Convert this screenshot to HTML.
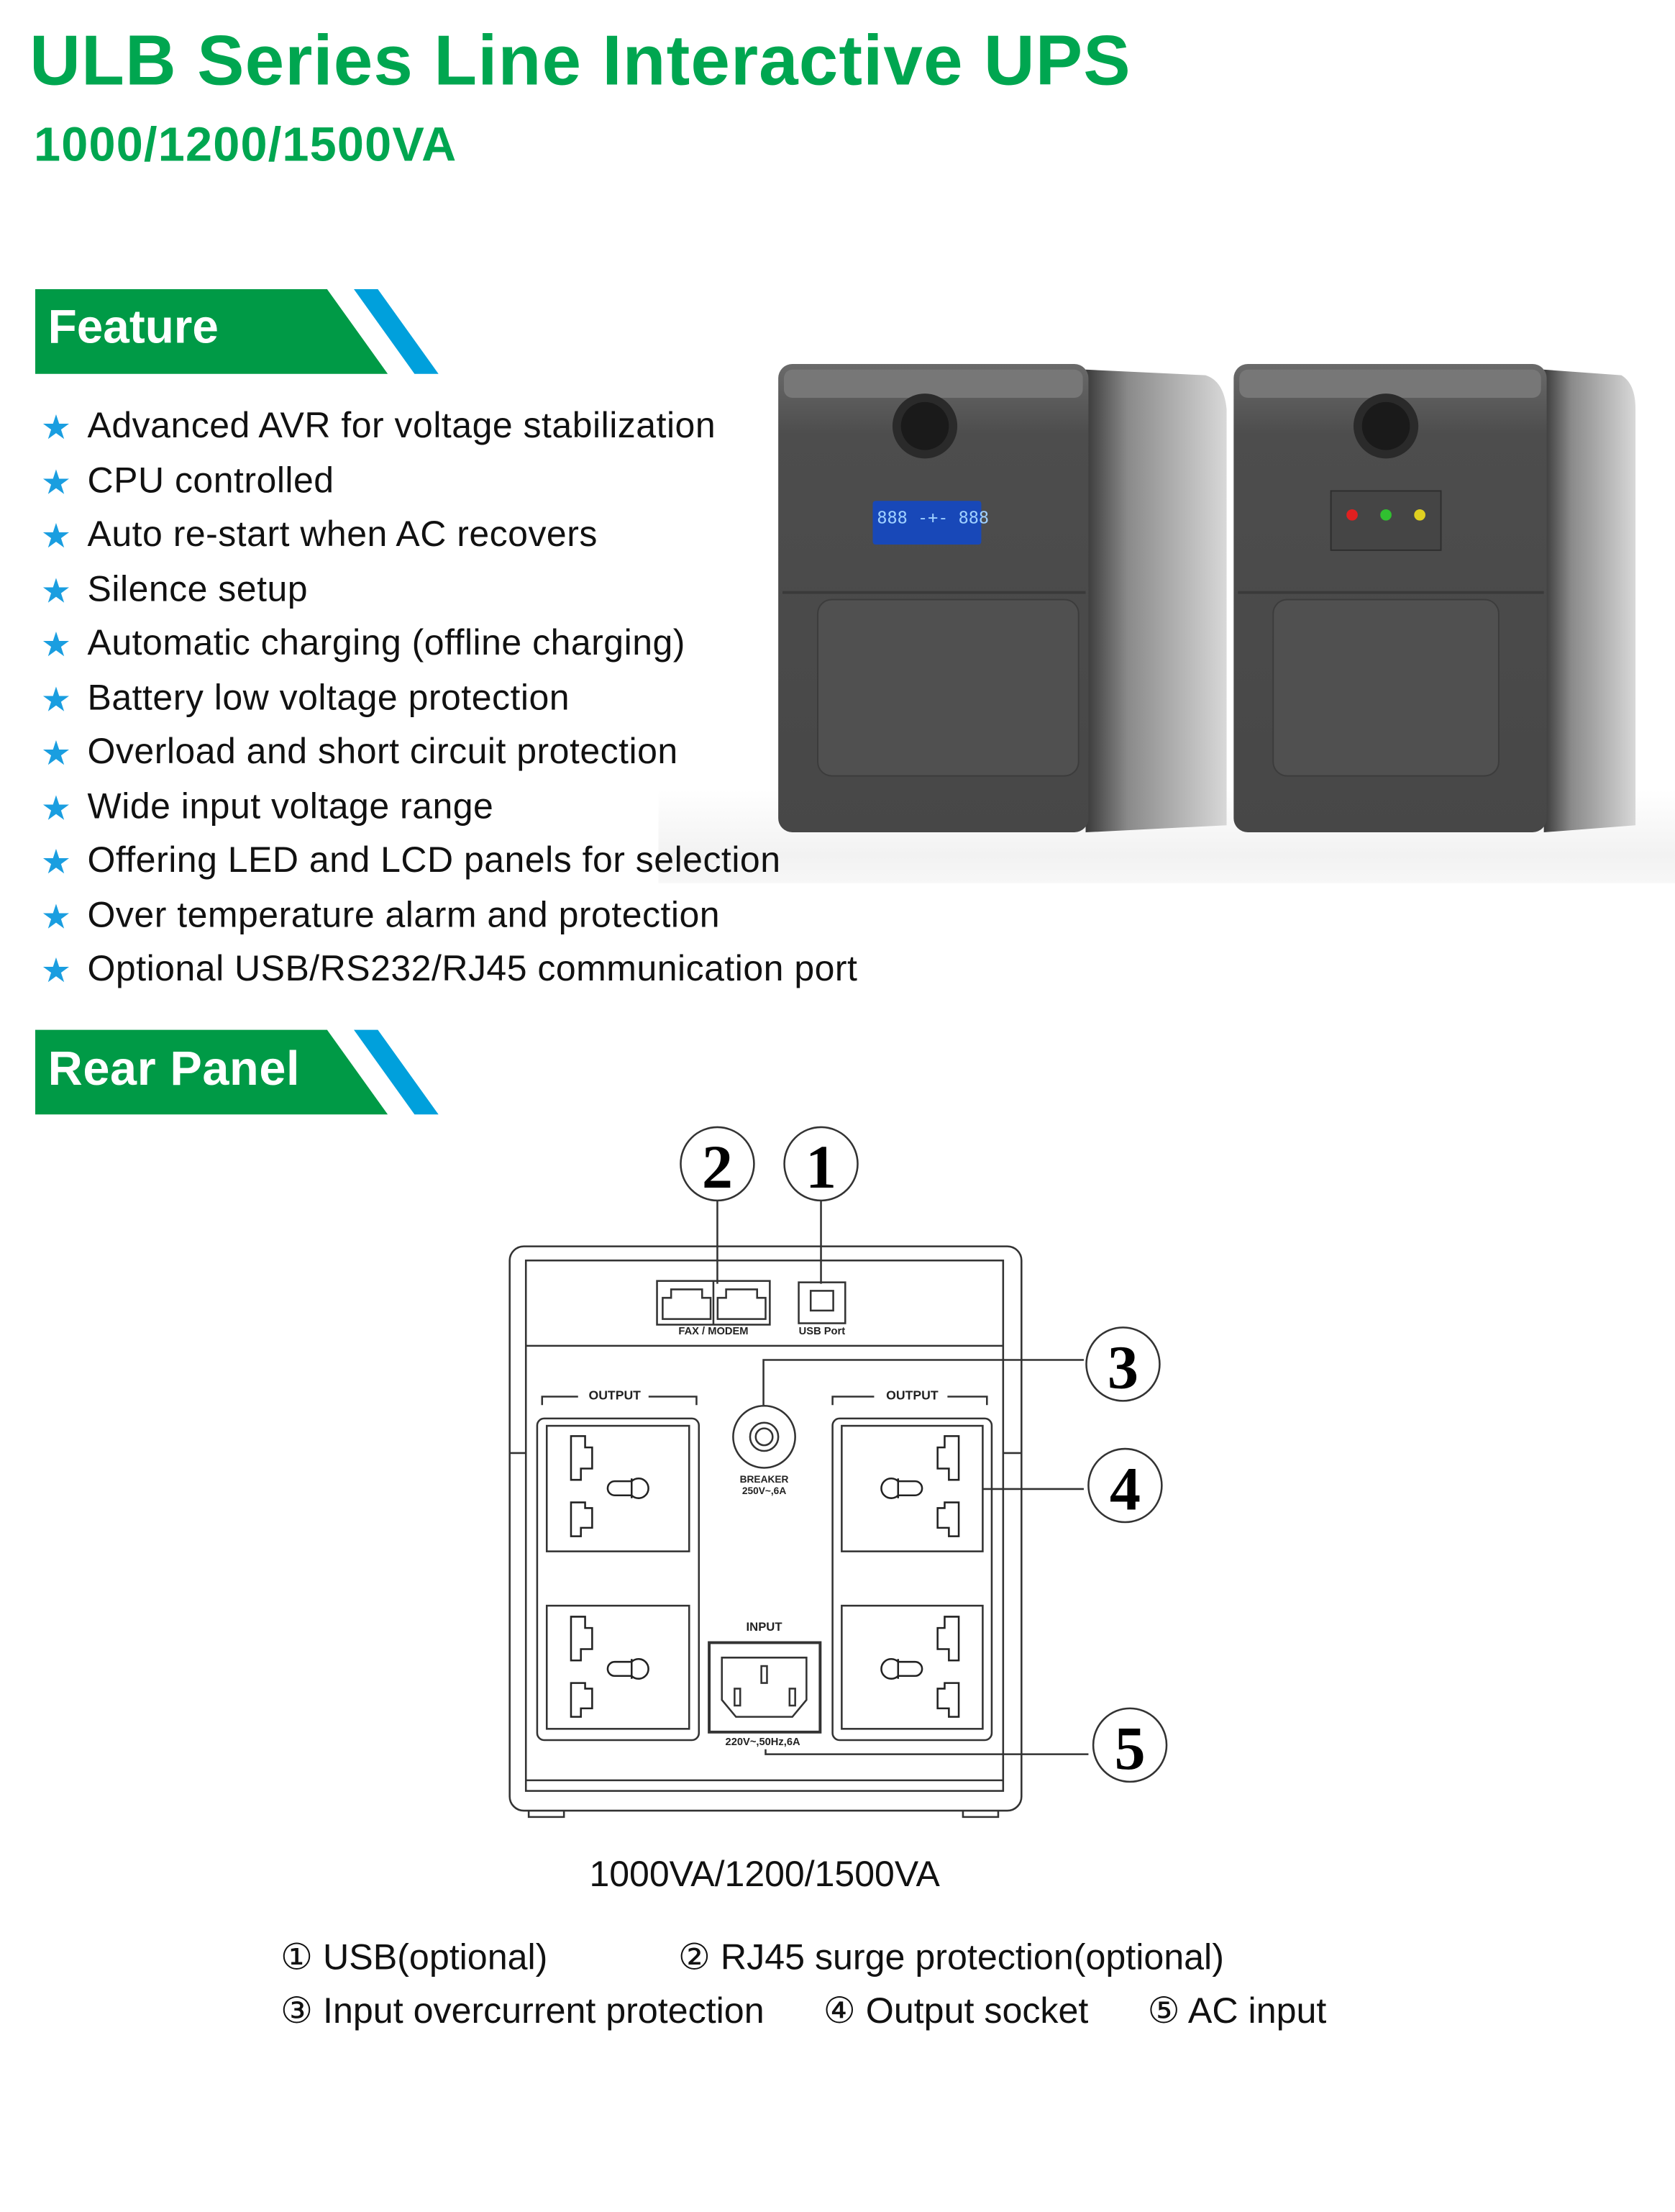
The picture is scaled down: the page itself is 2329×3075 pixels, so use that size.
<!DOCTYPE html>
<html><head><meta charset="utf-8"><style>
html,body{margin:0;padding:0;background:#fff;}
body{width:2329px;height:3075px;overflow:hidden;position:relative;}
#s{position:absolute;left:0;top:0;width:1188px;height:1568px;transform:scale(1.9604,1.9611);transform-origin:0 0;font-family:"Liberation Sans","DejaVu Sans",sans-serif;}
.a{position:absolute;white-space:nowrap;}
.g{color:#00a650;font-weight:bold;}
.f{font-size:25.5px;letter-spacing:0.25px;color:#111;left:62px;}
.st{position:absolute;left:29px;color:#1a9ee0;font-size:24px;font-family:"DejaVu Sans",sans-serif;}
.lg{font-size:25.6px;color:#111;font-family:"Liberation Sans","DejaVu Sans",sans-serif;}
</style></head><body><div id="s">
<div class="a g" style="left:21px;top:14px;font-size:50px;letter-spacing:0.55px;">ULB Series Line Interactive UPS</div>
<div class="a g" style="left:24px;top:84px;font-size:34px;letter-spacing:0.6px;">1000/1200/1500VA</div>

<svg class="a" style="left:0;top:0" width="1188" height="1568">
<polygon points="25,205 232,205 275,265 25,265" fill="#009a46"/>
<polygon points="251,205 268,205 311,265 294,265" fill="#00a0dc"/>
<polygon points="25,730 232,730 275,790 25,790" fill="#009a46"/>
<polygon points="251,730 268,730 311,790 294,790" fill="#00a0dc"/>
<defs>
<linearGradient id="bg" x1="0" y1="0" x2="0" y2="1"><stop offset="0" stop-color="#fff"/><stop offset="0.7" stop-color="#f2f2f2"/><stop offset="1" stop-color="#f7f7f7"/></linearGradient>
<linearGradient id="sd" x1="0" y1="0" x2="1" y2="0"><stop offset="0" stop-color="#3a3a3a"/><stop offset="0.3" stop-color="#8a8a8a"/><stop offset="1" stop-color="#d8d8d8"/></linearGradient>
<linearGradient id="fr" x1="0" y1="0" x2="0" y2="1"><stop offset="0" stop-color="#6a6a6a"/><stop offset="0.15" stop-color="#4d4d4d"/><stop offset="1" stop-color="#474747"/></linearGradient>
</defs>
<rect x="467" y="560" width="721" height="66" fill="url(#bg)"/>
<path d="M770,262 L855,266 Q868,270 870,290 L870,585 L770,590 Z" fill="url(#sd)"/>
<rect x="552" y="258" width="220" height="332" rx="10" fill="url(#fr)"/>
<rect x="556" y="262" width="212" height="20" rx="6" fill="#777"/>
<line x1="555" y1="420" x2="770" y2="420" stroke="#3a3a3a" stroke-width="2"/>
<rect x="580" y="425" width="185" height="125" rx="10" fill="#505050" stroke="#3c3c3c"/>
<circle cx="656" cy="302" r="23" fill="#2a2a2a"/><circle cx="656" cy="302" r="17" fill="#1a1a1a"/>
<rect x="619" y="355" width="77" height="31" rx="2" fill="#1848b8"/>
<text x="622" y="371" font-size="12" fill="#9fd0ff" font-family="DejaVu Sans Mono">888 -+- 888</text>
<path d="M1095,262 L1150,266 Q1160,272 1160,290 L1160,585 L1095,590 Z" fill="url(#sd)"/>
<rect x="875" y="258" width="222" height="332" rx="10" fill="url(#fr)"/>
<rect x="879" y="262" width="214" height="20" rx="6" fill="#777"/>
<line x1="878" y1="420" x2="1095" y2="420" stroke="#3a3a3a" stroke-width="2"/>
<rect x="903" y="425" width="160" height="125" rx="10" fill="#505050" stroke="#3c3c3c"/>
<circle cx="983" cy="302" r="23" fill="#2a2a2a"/><circle cx="983" cy="302" r="17" fill="#1a1a1a"/>
<rect x="944" y="348" width="78" height="42" fill="#454545" stroke="#2e2e2e"/>
<circle cx="959" cy="365" r="4" fill="#e02020"/><circle cx="983" cy="365" r="4" fill="#30c030"/><circle cx="1007" cy="365" r="4" fill="#e0d020"/>

<g fill="none" stroke="#333" stroke-width="1.3">
<rect x="361.5" y="883.5" width="363" height="400" rx="10"/>
<line x1="361.5" y1="1030" x2="373" y2="1030"/><line x1="712" y1="1030" x2="724.5" y2="1030"/>
<rect x="373" y="893.5" width="338.5" height="376" />
<line x1="373" y1="954" x2="711.5" y2="954"/>
<line x1="373" y1="1262" x2="711.5" y2="1262"/>
<path d="M375,1283 v5 h25 v-5 M683,1283 v5 h25 v-5"/>
<rect x="466" y="908" width="80" height="31"/>
<line x1="506" y1="908" x2="506" y2="939"/>
<path d="M470,935 v-15 h6 v-6 h22 v6 h6 v15 Z M509,935 v-15 h6 v-6 h22 v6 h6 v15 Z"/>
<rect x="566.5" y="909" width="33" height="29"/>
<rect x="575" y="915" width="16" height="14" />
<line x1="508.8" y1="851" x2="508.8" y2="910"/>
<line x1="582.3" y1="851" x2="582.3" y2="910"/>
<path d="M768.7,964 H541.5 V996"/>
<line x1="696.8" y1="1055.5" x2="768.7" y2="1055.5"/>
<path d="M543,1240 V1243.5 H772"/>
<circle cx="542" cy="1018.5" r="22"/><circle cx="542" cy="1018.5" r="10"/><circle cx="542" cy="1018.5" r="6"/>
<path d="M384.5,996 V990 H410 M460,990 H494 V996"/>
<path d="M590.5,996 V990 H620 M672,990 H700 V996"/>
<rect x="381" y="1005.5" width="114.7" height="228" rx="5"/>
<rect x="387.8" y="1010.7" width="101" height="89" /><rect x="387.8" y="1138.2" width="101" height="87.3"/>
<rect x="590.5" y="1005.5" width="112.9" height="228" rx="5"/>
<rect x="597" y="1010.7" width="100" height="89"/><rect x="597" y="1138.2" width="100" height="87.3"/>
<rect x="503" y="1164.4" width="78.7" height="63.4" stroke-width="2"/>
<path d="M512,1175 H572 V1205 L562,1217 H522 L512,1205 Z"/>
<rect x="540" y="1181" width="4" height="12"/><rect x="521" y="1197" width="4" height="12"/><rect x="560" y="1197" width="4" height="12"/>
<circle cx="508.8" cy="825" r="26"/><circle cx="582.3" cy="825" r="26"/>
<circle cx="796.5" cy="967" r="26"/><circle cx="798" cy="1053" r="26"/><circle cx="801.4" cy="1237" r="26"/>
</g>
<g fill="none" stroke="#222" stroke-width="1.3">
<g id="sk">
<path d="M405,1018 h10 v8 h5 v15 h-8 v8 h-7 Z"/>
<path d="M405,1065 h10 v4 h5 v14 h-8 v6 h-7 Z"/>
<path d="M436,1050 h12 a7,7 0 1 1 0,10 h-12 a5,5 0 1 1 0,-10 Z M448,1048 v14"/>
</g>
<use href="#sk" y="128"/>
<g transform="translate(1085,0) scale(-1,1)"><use href="#sk"/><use href="#sk" y="128"/></g>
</g>
<g font-family="Liberation Sans,sans-serif" font-weight="bold" fill="#222" text-anchor="middle">
<text x="506" y="946" font-size="7.5">FAX / MODEM</text>
<text x="583" y="946" font-size="7.5">USB Port</text>
<text x="436" y="992" font-size="9">OUTPUT</text>
<text x="647" y="992" font-size="9">OUTPUT</text>
<text x="542" y="1051" font-size="7">BREAKER</text>
<text x="542" y="1059" font-size="7">250V~,6A</text>
<text x="542" y="1156" font-size="8.5">INPUT</text>
<text x="541" y="1237" font-size="7.5">220V~,50Hz,6A</text>
<g font-family="Liberation Serif,serif" font-size="44" fill="#000">
<text x="508.8" y="842">2</text><text x="582.3" y="842">1</text>
<text x="796.5" y="984">3</text><text x="798" y="1070">4</text><text x="801.4" y="1254">5</text>
</g>
</g>
</svg>

<div class="a" style="left:34px;top:214px;font-size:33.5px;font-weight:bold;color:#fff;">Feature</div>
<div class="a" style="left:34px;top:739px;font-size:34px;font-weight:bold;color:#fff;letter-spacing:0.3px;">Rear Panel</div>

<div class="st" style="top:289px">★</div><div class="a f" style="top:288px">Advanced AVR for voltage stabilization</div>
<div class="st" style="top:328px">★</div><div class="a f" style="top:327px">CPU controlled</div>
<div class="st" style="top:366px">★</div><div class="a f" style="top:365px">Auto re-start when AC recovers</div>
<div class="st" style="top:405px">★</div><div class="a f" style="top:404px">Silence setup</div>
<div class="st" style="top:443px">★</div><div class="a f" style="top:442px">Automatic charging (offline charging)</div>
<div class="st" style="top:482px">★</div><div class="a f" style="top:481px">Battery low voltage protection</div>
<div class="st" style="top:520px">★</div><div class="a f" style="top:519px">Overload and short circuit protection</div>
<div class="st" style="top:559px">★</div><div class="a f" style="top:558px">Wide input voltage range</div>
<div class="st" style="top:597px">★</div><div class="a f" style="top:596px">Offering LED and LCD panels for selection</div>
<div class="st" style="top:636px">★</div><div class="a f" style="top:635px">Over temperature alarm and protection</div>
<div class="st" style="top:674px">★</div><div class="a f" style="top:673px">Optional USB/RS232/RJ45 communication port</div>

<div class="a" style="left:418px;top:1315px;font-size:25.5px;color:#111;">1000VA/1200/1500VA</div>
<div class="a lg" style="left:199px;top:1373px;">① USB(optional)</div>
<div class="a lg" style="left:481px;top:1373px;">② RJ45 surge protection(optional)</div>
<div class="a lg" style="left:199px;top:1411px;">③ Input overcurrent protection</div>
<div class="a lg" style="left:584px;top:1411px;">④ Output socket</div>
<div class="a lg" style="left:814px;top:1411px;">⑤ AC input</div>
</div></body></html>
